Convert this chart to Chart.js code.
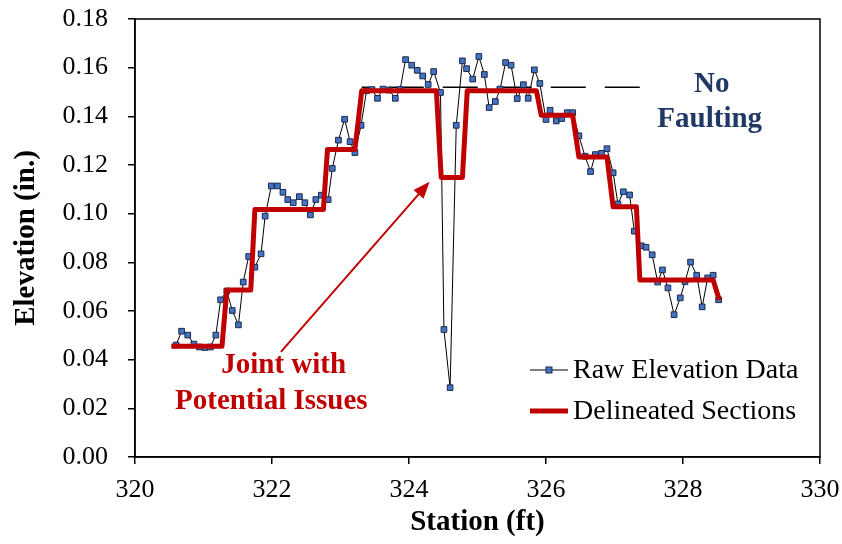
<!DOCTYPE html>
<html>
<head>
<meta charset="utf-8">
<script src="https://cdn.jsdelivr.net/npm/chart.js@4.4.1/dist/chart.umd.min.js"></script>
<style>
  html, body { margin: 0; padding: 0; background: #fff; }
  #wrap { width: 842px; height: 544px; }
</style>
</head>
<body>
<div id="wrap"><canvas id="grafico" width="842" height="544"></canvas></div>
<script>
// raw elevation readings (station in ft, elevation in in.)
const stations = [
  320.60, 320.68, 320.77, 320.86, 320.94, 321.02, 321.10, 321.18, 321.25, 321.34,
  321.42, 321.51, 321.58, 321.66, 321.75, 321.84, 321.90, 321.99, 322.08, 322.16,
  322.23, 322.31, 322.40, 322.48, 322.56, 322.64, 322.72, 322.82, 322.88, 322.97,
  323.06, 323.14, 323.21, 323.30, 323.38, 323.46, 323.54, 323.62, 323.71, 323.80,
  323.87, 323.95, 324.04, 324.12, 324.20, 324.28, 324.36, 324.46, 324.51, 324.60,
  324.69, 324.78, 324.84, 324.93, 325.02, 325.10, 325.17, 325.26, 325.33, 325.41,
  325.49, 325.58, 325.67, 325.74, 325.83, 325.91, 326.00, 326.06, 326.15, 326.23,
  326.31, 326.39, 326.48, 326.57, 326.65, 326.72, 326.81, 326.89, 326.98, 327.05,
  327.13, 327.22, 327.29, 327.39, 327.46, 327.55, 327.63, 327.70, 327.78, 327.87,
  327.96, 328.03, 328.11, 328.20, 328.28, 328.36, 328.44, 328.52
];
const elevations = [
  0.0460, 0.0517, 0.0501, 0.0464, 0.0452, 0.0450, 0.0452, 0.0501, 0.0646, 0.0682,
  0.0602, 0.0543, 0.0719, 0.0824, 0.0780, 0.0835, 0.0990, 0.1114, 0.1114, 0.1088,
  0.1058, 0.1045, 0.1070, 0.1045, 0.0995, 0.1058, 0.1076, 0.1058, 0.1186, 0.1302,
  0.1388, 0.1296, 0.1251, 0.1363, 0.1505, 0.1510, 0.1474, 0.1512, 0.1508, 0.1474,
  0.1510, 0.1633, 0.1610, 0.1589, 0.1566, 0.1531, 0.1584, 0.1498, 0.0524, 0.0285,
  0.1363, 0.1628, 0.1596, 0.1553, 0.1646, 0.1572, 0.1436, 0.1461, 0.1512, 0.1621,
  0.1610, 0.1473, 0.1530, 0.1474, 0.1591, 0.1535, 0.1387, 0.1425, 0.1381, 0.1391,
  0.1415, 0.1415, 0.1320, 0.1236, 0.1173, 0.1243, 0.1248, 0.1267, 0.1168, 0.1040,
  0.1090, 0.1077, 0.0928, 0.0868, 0.0862, 0.0831, 0.0719, 0.0769, 0.0695, 0.0585,
  0.0654, 0.0721, 0.0801, 0.0747, 0.0617, 0.0736, 0.0747, 0.0646
];

// delineated sections (step line)
const sectionStations = [
  320.53, 321.27, 321.34, 321.69, 321.75, 322.75, 322.81, 323.21, 323.31, 324.40, 324.47, 324.78,
  324.85, 325.86, 325.93, 326.39, 326.48, 326.89, 326.98, 327.32, 327.37, 328.44, 328.53
];
const sectionElevations = [
  0.0455, 0.0455, 0.0686, 0.0686, 0.1017, 0.1017, 0.1264, 0.1264, 0.1505, 0.1505, 0.1149, 0.1149,
  0.1505, 0.1505, 0.1404, 0.1404, 0.1233, 0.1233, 0.1028, 0.1028, 0.0727, 0.0727, 0.0645
];

// "no faulting" reference level
const noFaultStations = [323.31, 327.37];
const noFaultElevations = [0.152, 0.152];

const xTicks = [320, 322, 324, 326, 328, 330];
const yTicks = [0, 0.02, 0.04, 0.06, 0.08, 0.10, 0.12, 0.14, 0.16, 0.18];

const serif = "'Liberation Serif', 'Times New Roman', serif";
const vermelho = "#c00000";
const azulEscuro = "#1f3864";
const azulPonto = "#4472c4";

function pares(xs, ys) {
    return xs.map((x, i) => ({ x: x, y: ys[i] }));
}

// frame, legend, notes and arrow
const extras = {
    id: "extras",
    afterDraw(chart) {
        const ctx = chart.ctx;
        const a = chart.chartArea;
        const sx = chart.scales.x, sy = chart.scales.y;

        ctx.save();
        ctx.strokeStyle = "#000";
        ctx.lineWidth = 1.5;
        ctx.strokeRect(a.left, a.top, a.right - a.left, a.bottom - a.top);

        // legend
        const lx = 530, ly1 = 370, ly2 = 411;
        ctx.lineWidth = 1;
        ctx.beginPath();
        ctx.moveTo(lx, ly1);
        ctx.lineTo(lx + 38, ly1);
        ctx.stroke();
        ctx.fillStyle = azulPonto;
        ctx.strokeStyle = "#1b2a4a";
        ctx.fillRect(lx + 16, ly1 - 3, 6, 6);
        ctx.strokeRect(lx + 16, ly1 - 3, 6, 6);

        ctx.strokeStyle = vermelho;
        ctx.lineWidth = 5;
        ctx.beginPath();
        ctx.moveTo(lx, ly2);
        ctx.lineTo(lx + 38, ly2);
        ctx.stroke();

        ctx.fillStyle = "#000";
        ctx.font = "28px " + serif;
        ctx.textAlign = "left";
        ctx.textBaseline = "middle";
        ctx.fillText("Raw Elevation Data", lx + 43, ly1 + 1);
        ctx.fillText("Delineated Sections", lx + 43, ly2 + 1);

        // notes
        ctx.font = "bold 29px " + serif;
        ctx.textAlign = "center";
        ctx.fillStyle = azulEscuro;
        ctx.fillText("No", sx.getPixelForValue(328.42), sy.getPixelForValue(0.1532));
        ctx.fillText("Faulting", sx.getPixelForValue(328.39), sy.getPixelForValue(0.1388));
        ctx.fillStyle = vermelho;
        ctx.fillText("Joint with", sx.getPixelForValue(322.17), sy.getPixelForValue(0.0374));
        ctx.fillText("Potential Issues", sx.getPixelForValue(321.99), sy.getPixelForValue(0.0226));

        // arrow
        const x0 = sx.getPixelForValue(322.13), y0 = sy.getPixelForValue(0.0432);
        const x1 = sx.getPixelForValue(324.30), y1 = sy.getPixelForValue(0.1131);
        const ang = Math.atan2(y1 - y0, x1 - x0);
        const cab = 18;
        ctx.strokeStyle = vermelho;
        ctx.lineWidth = 2;
        ctx.beginPath();
        ctx.moveTo(x0, y0);
        ctx.lineTo(x1 - Math.cos(ang) * cab * 0.8, y1 - Math.sin(ang) * cab * 0.8);
        ctx.stroke();
        ctx.beginPath();
        ctx.moveTo(x1, y1);
        ctx.lineTo(x1 - cab * Math.cos(ang - 0.38), y1 - cab * Math.sin(ang - 0.38));
        ctx.lineTo(x1 - cab * Math.cos(ang + 0.38), y1 - cab * Math.sin(ang + 0.38));
        ctx.closePath();
        ctx.fill();
        ctx.restore();
    }
};

const eixo = {
    display: true,
    drawOnChartArea: false,
    drawTicks: true,
    tickLength: 7,
    color: "#000",
    lineWidth: 1.5
};

const ctx = document.getElementById("grafico").getContext("2d");
new Chart(ctx, {
    type: "scatter",
    data: {
        datasets: [
            {
                label: "Delineated Sections",
                data: pares(sectionStations, sectionElevations),
                showLine: true,
                borderColor: vermelho,
                borderWidth: 5,
                borderJoinStyle: "round",
                pointRadius: 0,
                order: 0
            },
            {
                label: "Raw Elevation Data",
                data: pares(stations, elevations),
                showLine: true,
                borderColor: "#000",
                borderWidth: 1,
                pointStyle: "rect",
                pointRadius: 4,
                pointBackgroundColor: azulPonto,
                pointBorderColor: "#1b2a4a",
                pointBorderWidth: 1,
                order: 1
            },
            {
                label: "No Faulting",
                data: pares(noFaultStations, noFaultElevations),
                showLine: true,
                borderColor: "#000",
                borderWidth: 1.5,
                borderDash: [35, 19],
                borderDashOffset: 27,
                pointRadius: 0,
                order: 2
            }
        ]
    },
    options: {
        responsive: false,
        animation: false,
        devicePixelRatio: 1,
        layout: { padding: { top: 19, right: 22, left: 0, bottom: 0 } },
        plugins: {
            legend: { display: false },
            tooltip: { enabled: false }
        },
        scales: {
            x: {
                type: "linear",
                min: 320,
                max: 330,
                afterBuildTicks: (s) => { s.ticks = xTicks.map(v => ({ value: v })); },
                afterFit: (s) => { s.height = 87; s.paddingLeft = 0; s.paddingRight = 0; },
                grid: eixo,
                border: { display: true, color: "#000", width: 1.5 },
                ticks: {
                    color: "#000",
                    font: { family: serif, size: 26 },
                    padding: 11,
                    maxRotation: 0
                },
                title: {
                    display: true,
                    text: "Station (ft)",
                    color: "#000",
                    font: { family: serif, size: 29, weight: "bold" },
                    padding: { top: 0, bottom: 4 }
                }
            },
            y: {
                type: "linear",
                min: 0,
                max: 0.18,
                afterBuildTicks: (s) => { s.ticks = yTicks.map(v => ({ value: v })); },
                afterFit: (s) => { s.width = 135; s.paddingTop = 0; s.paddingBottom = 0; },
                grid: eixo,
                border: { display: true, color: "#000", width: 1.5 },
                ticks: {
                    color: "#000",
                    font: { family: serif, size: 26 },
                    padding: 20,
                    callback: (v) => Number(v).toFixed(2)
                },
                title: {
                    display: true,
                    text: "Elevation (in.)",
                    color: "#000",
                    font: { family: serif, size: 29, weight: "bold" },
                    padding: { top: 9, bottom: 0 }
                }
            }
        }
    },
    plugins: [extras]
});
</script>
</body>
</html>
